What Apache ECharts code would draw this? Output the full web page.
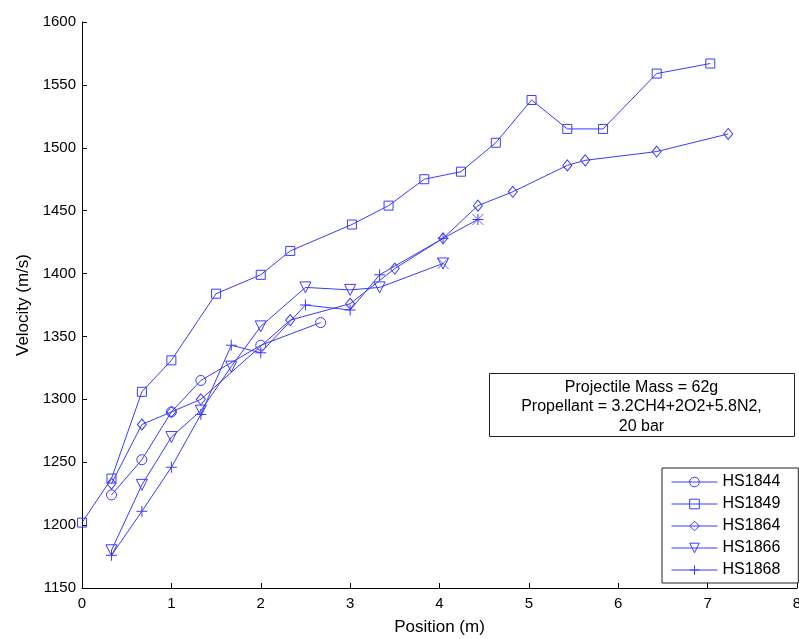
<!DOCTYPE html>
<html>
<head>
<meta charset="utf-8">
<script src="https://cdn.jsdelivr.net/npm/echarts@6/dist/echarts.min.js"></script>
<style>
html,body{margin:0;padding:0;background:#fff;}
#chart{width:799px;height:639px;}
</style>
</head>
<body>
<div id="chart"></div>
<script>
// ---- data ----
const seriesNames = ['HS1844', 'HS1849', 'HS1864', 'HS1866', 'HS1868'];

const hs1844X = [0.33, 0.67, 1.0, 1.33, 2.0, 2.67];
const hs1844Y = [1224, 1252, 1290, 1315, 1343, 1361];

const hs1849X = [0, 0.33, 0.67, 1.0, 1.5, 2.0, 2.33, 3.02, 3.43, 3.83, 4.24, 4.63, 5.03, 5.43, 5.83, 6.43, 7.03];
const hs1849Y = [1202, 1237, 1306, 1331, 1384, 1399, 1418, 1439, 1454, 1475, 1481, 1504, 1538, 1515, 1515, 1559, 1567];

const hs1864X = [0.33, 0.67, 1.0, 1.33, 2.33, 3.0, 3.5, 4.04, 4.43, 4.82, 5.43, 5.63, 6.43, 7.23];
const hs1864Y = [1233, 1280, 1290, 1300, 1363, 1376, 1404, 1428, 1454, 1465, 1486, 1490, 1497, 1511];

const hs1866X = [0.33, 0.67, 1.0, 1.33, 1.67, 2.0, 2.5, 3.0, 3.33, 4.04];
const hs1866Y = [1180, 1232, 1270, 1291, 1326, 1358, 1389, 1387, 1389, 1408];

const hs1868X = [0.33, 0.67, 1.0, 1.33, 1.67, 2.0, 2.5, 3.0, 3.33, 4.04, 4.43];
const hs1868Y = [1176, 1211, 1246, 1288, 1343, 1337, 1375, 1371, 1399, 1428, 1443];

// extra 'x' markers overlaid on final points
const crossX = [4.04, 4.43];
const crossY = [1408, 1443];

const xTicks = { min: 0, max: 8, interval: 1 };
const yTicks = { min: 1150, max: 1600, interval: 50 };

const annotationLines = ['Projectile Mass = 62g', 'Propellant = 3.2CH4+2O2+5.8N2,', '20 bar'];

// ---- chart ----
const FONT = '"Liberation Sans", Arial, Helvetica, sans-serif';
const BLUE = '#3a3aff';
const PLUS = 'path://M5,0L5,10M0,5L10,5';
const CROSS = 'path://M0,0L10,10M10,0L0,10';

function zip(xs, ys) { return xs.map((x, i) => [x, ys[i]]); }

function lineSeries(name, xs, ys, symbol, size, rotate) {
  return {
    name: name,
    type: 'line',
    data: zip(xs, ys),
    symbol: symbol,
    symbolSize: size,
    symbolRotate: rotate || 0,
    showAllSymbol: true,
    lineStyle: { color: BLUE, width: 1 },
    itemStyle: { color: 'rgba(255,255,255,0)', borderColor: BLUE, borderWidth: 1 },
    emphasis: { disabled: true },
    animation: false,
    z: 3
  };
}

const chart = echarts.init(document.getElementById('chart'), null, { renderer: 'canvas' });

const option = {
  backgroundColor: '#fff',
  animation: false,
  textStyle: { fontFamily: FONT },
  grid: { left: 82, top: 22, right: 2, bottom: 51, containLabel: false, outerBoundsMode: 'none' },
  xAxis: {
    type: 'value',
    min: xTicks.min, max: xTicks.max, interval: xTicks.interval,
    name: 'Position (m)',
    nameLocation: 'middle',
    nameGap: 31,
    nameTextStyle: { fontSize: 17, color: '#000', fontFamily: FONT },
    axisLine: { show: true, onZero: false, lineStyle: { color: '#000', width: 1 } },
    axisTick: { show: true, inside: true, length: 5, lineStyle: { color: '#000' } },
    axisLabel: { color: '#000', fontSize: 15, margin: 8, fontFamily: FONT, showMaxLabel: true, showMinLabel: true,
                 hideOverlap: false, formatter: v => String(v) },
    splitLine: { show: false }
  },
  yAxis: {
    type: 'value',
    min: yTicks.min, max: yTicks.max, interval: yTicks.interval,
    name: 'Velocity (m/s)',
    nameLocation: 'middle',
    nameGap: 49,
    nameTextStyle: { fontSize: 17, color: '#000', fontFamily: FONT },
    axisLine: { show: true, onZero: false, lineStyle: { color: '#000', width: 1 } },
    axisTick: { show: true, inside: true, length: 5, lineStyle: { color: '#000' } },
    axisLabel: { color: '#000', fontSize: 15, margin: 6, fontFamily: FONT, formatter: v => String(v) },
    splitLine: { show: false }
  },
  legend: {
    data: seriesNames,
    orient: 'vertical',
    left: 662,
    top: 468,
    padding: [6, 18, 5, 9],
    itemWidth: 46,
    itemHeight: 12,
    itemGap: 6,
    itemTextGap: 6,
    borderColor: '#222',
    borderWidth: 1,
    backgroundColor: '#fff',
    itemStyle: { color: 'rgba(255,255,255,0)', borderColor: BLUE, borderWidth: 1 },
    lineStyle: { color: BLUE, width: 1 },
    textStyle: { fontSize: 16, color: '#000', fontFamily: FONT },
    selectedMode: false
  },
  graphic: [
    {
      type: 'group',
      left: 489,
      top: 373,
      children: [
        { type: 'rect', shape: { x: 0, y: 0, width: 305, height: 63 },
          style: { fill: '#fff', stroke: '#222', lineWidth: 1 } },
        { type: 'text', x: 152, y: 4,
          style: { text: annotationLines.join('\n'), fontSize: 16, lineHeight: 19.5,
                   fontFamily: FONT, fill: '#000', align: 'center', verticalAlign: 'top' } }
      ]
    }
  ],
  series: [
    lineSeries('HS1844', hs1844X, hs1844Y, 'circle', 10),
    lineSeries('HS1849', hs1849X, hs1849Y, 'rect', 9),
    lineSeries('HS1864', hs1864X, hs1864Y, 'diamond', [9, 11]),
    lineSeries('HS1866', hs1866X, hs1866Y, 'triangle', 11, 180),
    lineSeries('HS1868', hs1868X, hs1868Y, PLUS, 11),
    {
      name: 'cross',
      type: 'scatter',
      data: zip(crossX, crossY),
      symbol: CROSS,
      symbolSize: 11,
      itemStyle: { color: 'rgba(255,255,255,0)', borderColor: BLUE, borderWidth: 1 },
      emphasis: { disabled: true },
      z: 4
    }
  ]
};

chart.setOption(option);
</script>
</body>
</html>
